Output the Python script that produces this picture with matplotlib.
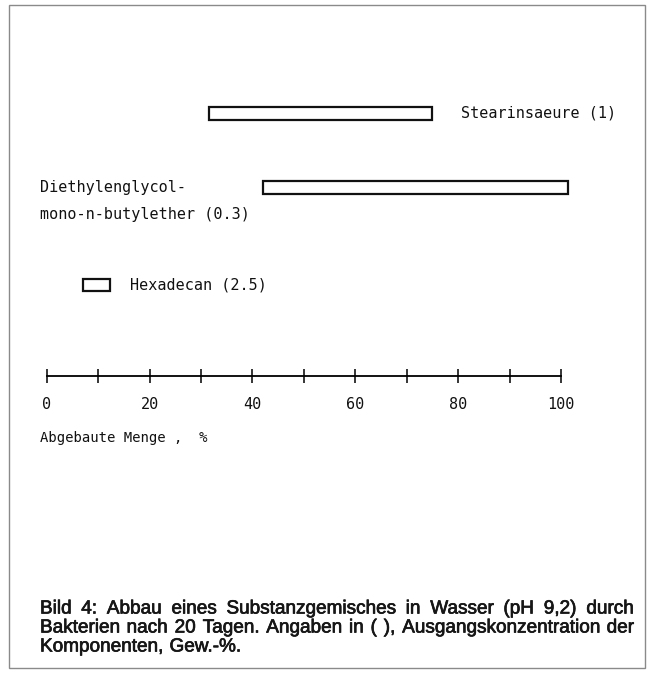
import matplotlib
matplotlib.use("Agg")
import matplotlib.pyplot as plt
import matplotlib.patheffects as pe
from matplotlib.patches import Rectangle

# degradation ranges, % (start, end)
substances = ["Stearinsaeure (1)", "Diethylenglycol-\nmono-n-butylether (0.3)", "Hexadecan (2.5)"]
range_start = [31.6, 42.1, 7.0]
range_end = [75.0, 101.4, 12.4]
ticks = [0, 10, 20, 30, 40, 50, 60, 70, 80, 90, 100]
tick_labels = ["0", "", "20", "", "40", "", "60", "", "80", "", "100"]
axis_title = "Abgebaute Menge ,  %"
caption = [
    "Bild 4: Abbau eines Substanzgemisches in Wasser (pH 9,2) durch",
    "Bakterien nach 20 Tagen. Angaben in ( ), Ausgangskonzentration der",
    "Komponenten, Gew.-%.",
]

# layout (pixel rows of the page)
W, H = 651, 677
x0_px, px_per_unit = 46.7, 5.143
rows = [113.3, 187.5, 284.5]
bar_h = [13, 13, 12]
axis_y = 376
plotfont = "DejaVu Sans Mono"
ink = "#111111"

fig = plt.figure(figsize=(W / 100, H / 100), dpi=100)
ax = fig.add_axes([0, 0, 1, 1])
ax.set_xlim(-x0_px / px_per_unit, (W - x0_px) / px_per_unit)
ax.set_ylim(H, 0)

ax.barh(rows, [e - s for s, e in zip(range_start, range_end)], left=range_start,
        height=bar_h, facecolor="white", edgecolor=ink, linewidth=1.6)


def px(x):
    return (x - x0_px) / px_per_unit


# labels next to bars
first, second = substances[1].split("\n")
ax.text(px(461), rows[0], substances[0], family=plotfont, fontsize=10.9,
        va="center", ha="left", color=ink)
ax.text(px(40), rows[1], first, family=plotfont, fontsize=10.9,
        va="center", ha="left", color=ink)
ax.text(px(40), rows[1] + 27, second, family=plotfont, fontsize=10.9,
        va="center", ha="left", color=ink)
ax.text(px(130), rows[2], substances[2], family=plotfont, fontsize=10.9,
        va="center", ha="left", color=ink)

# x axis drawn as a floating spine
for s in ["left", "right", "top"]:
    ax.spines[s].set_visible(False)
ax.spines["bottom"].set_position(("data", axis_y))
ax.spines["bottom"].set_bounds(0, 100)
ax.spines["bottom"].set_linewidth(1.3)
ax.set_xticks(ticks)
ax.set_xticklabels(tick_labels, family=plotfont, fontsize=10.9, color=ink)
ax.tick_params(axis="x", direction="inout", length=10, width=1.1, pad=10)
ax.set_yticks([])
ax.text(px(40), 438, axis_title, family=plotfont, fontsize=10, va="center",
        ha="left", color=ink)

# page frame
ax.add_patch(Rectangle((px(9), 5), 636 / px_per_unit, 663, fill=False,
                       edgecolor="#8a8a8a", linewidth=1.0, clip_on=False))

# justified caption, size fitted so the second line nearly fills the width
cap_left, cap_right = 40, 634
cap_rows = [609, 628, 647]
darken = [pe.withStroke(linewidth=0.5, foreground="#161616")]
fig.canvas.draw()
renderer = fig.canvas.get_renderer()
probe = ax.text(0, 0, caption[1], family="Liberation Sans", fontsize=12)
cap_size = 12 * (cap_right - cap_left - 14) / probe.get_window_extent(renderer).width
probe.remove()
for i, line in enumerate(caption):
    words = line.split(" ")
    arts = [ax.text(px(cap_left), cap_rows[i], w, family="Liberation Sans", fontsize=cap_size,
                    va="center", ha="left", color="#161616", path_effects=darken)
            for w in words]
    widths = [a.get_window_extent(renderer).width for a in arts]
    if i < len(caption) - 1:
        gap = (cap_right - cap_left - sum(widths)) / (len(words) - 1)
    else:
        gap = cap_size * 0.33 * 100 / 72
    xpos = cap_left
    for a, w in zip(arts, widths):
        a.set_x(px(xpos))
        xpos += w + gap

fig.savefig("out.png", dpi=100)
